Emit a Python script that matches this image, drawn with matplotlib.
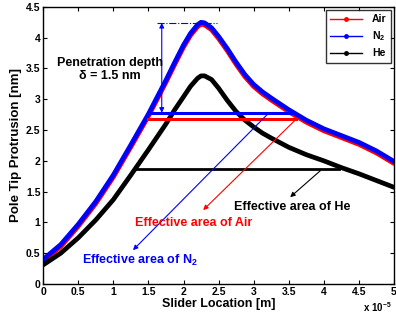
import numpy as np
import matplotlib
matplotlib.use("Agg")
import matplotlib.pyplot as plt
from matplotlib.lines import Line2D

plt.rcParams['font.family'] = ['Liberation Sans', 'DejaVu Sans']
plt.rcParams['font.weight'] = 'bold'
plt.rcParams['mathtext.fontset'] = 'custom'
plt.rcParams['mathtext.rm'] = 'Liberation Sans:bold'
plt.rcParams['mathtext.bf'] = 'Liberation Sans:bold'
plt.rcParams['mathtext.default'] = 'bf'

# slider location in units of 1e-5 m
x = [0, 0.25, 0.5, 0.75, 1.0, 1.25, 1.5, 1.75, 1.875, 2.0, 2.1, 2.2, 2.25, 2.3,
     2.4, 2.5, 2.625, 2.75, 2.875, 3.0, 3.125, 3.25, 3.5, 3.75, 4.0, 4.25, 4.5, 4.75, 5.0]
n2 = [0.40, 0.64, 0.97, 1.34, 1.77, 2.26, 2.76, 3.31, 3.60, 3.88, 4.07, 4.21, 4.25, 4.24,
      4.16, 4.02, 3.82, 3.60, 3.40, 3.24, 3.12, 3.02, 2.83, 2.66, 2.52, 2.41, 2.30, 2.16, 1.99]
air = [0.37, 0.61, 0.94, 1.31, 1.74, 2.23, 2.73, 3.28, 3.57, 3.85, 4.04, 4.18, 4.22, 4.21,
       4.13, 3.99, 3.79, 3.57, 3.37, 3.21, 3.09, 2.99, 2.80, 2.63, 2.49, 2.38, 2.27, 2.13, 1.96]
he = [0.31, 0.50, 0.75, 1.04, 1.37, 1.77, 2.18, 2.60, 2.83, 3.04, 3.21, 3.34, 3.38, 3.38,
      3.32, 3.18, 2.98, 2.80, 2.66, 2.55, 2.45, 2.37, 2.22, 2.10, 2.00, 1.89, 1.79, 1.68, 1.57]

# effective area levels: (start, end, level)
air_eff = (1.50, 3.60, 2.68)
n2_eff = (1.52, 3.55, 2.78)
he_eff = (1.33, 4.22, 1.87)
peak = 4.24

xticks = ['0', '0.5', '1', '1.5', '2', '2.5', '3', '3.5', '4', '4.5', '5']
yticks = ['0', '0.5', '1', '1.5', '2', '2.5', '3', '3.5', '4', '4.5']

fig = plt.figure(figsize=(3.96, 3.2), dpi=100)
ax = fig.add_axes([0.109, 0.1125, 0.886, 0.866])

kw = dict(solid_joinstyle='round', solid_capstyle='round')
ax.plot(x, air, color='red', lw=3.6, **kw)
ax.plot(x, n2, color='blue', lw=3.4, **kw)
ax.plot(x, he, color='black', lw=3.4, **kw)

ax.plot(air_eff[:2], [air_eff[2]] * 2, color='red', lw=2.2)
ax.plot(n2_eff[:2], [n2_eff[2]] * 2, color='blue', lw=2.2)
ax.plot(he_eff[:2], [he_eff[2]] * 2, color='black', lw=2.0)

# penetration depth marker
ax.plot([1.62, 2.48], [peak, peak], color='blue', lw=0.8, ls='-.')
ax.annotate('', xy=(1.69, n2_eff[2]), xytext=(1.69, peak),
            arrowprops=dict(arrowstyle='<|-|>', color='blue', lw=0.8,
                            mutation_scale=7, shrinkA=0, shrinkB=0))
ax.text(0.95, 3.48, 'Penetration depth\n\u03b4 = 1.5 nm', ha='center', va='center',
        fontsize=9, fontweight='bold', linespacing=1.15)

arr = dict(arrowstyle='-|>', lw=0.8, mutation_scale=7, shrinkA=0, shrinkB=0)
ax.annotate('', xy=(1.28, 0.55), xytext=(3.2, 2.76),
            arrowprops=dict(arr, color='blue'))
ax.annotate('', xy=(2.28, 1.2), xytext=(3.6, 2.67),
            arrowprops=dict(arr, color='red'))
ax.annotate('', xy=(3.52, 1.41), xytext=(3.95, 1.84),
            arrowprops=dict(arr, color='black'))

ax.text(3.55, 1.25, 'Effective area of He', color='black', ha='center', va='center',
        fontsize=9, fontweight='bold')
ax.text(2.15, 0.99, 'Effective area of Air', color='red', ha='center', va='center',
        fontsize=9, fontweight='bold')
ax.text(1.38, 0.39, 'Effective area of N$_2$', color='blue', ha='center', va='center',
        fontsize=9, fontweight='bold')

ax.set_xlim(0, 5)
ax.set_ylim(0, 4.5)
ax.set_xticks(np.arange(0, 5.01, 0.5))
ax.set_xticklabels(xticks, fontweight='bold')
ax.set_yticks(np.arange(0, 4.51, 0.5))
ax.set_yticklabels(yticks, fontweight='bold')
ax.tick_params(direction='in', top=True, right=True, labelsize=7.5, length=3, pad=2)
for s in ax.spines.values():
    s.set_linewidth(1.0)
ax.set_xlabel('Slider Location [m]', fontsize=9, fontweight='bold', labelpad=1)
ax.set_ylabel('Pole Tip Protrusion [nm]', fontsize=9.5, fontweight='bold', labelpad=3)
fig.text(0.99, 0.02, 'x 10$^{-5}$', ha='right', va='bottom', fontsize=7, fontweight='bold')

handles = [Line2D([0, 0.5, 1], [0, 0, 0], color=c, lw=1, marker='.', markersize=5,
                  markevery=[1]) for c in ('red', 'blue', 'black')]
leg = ax.legend(handles, ['Air', 'N$_2$', 'He'], loc='upper right', fontsize=7.5,
                frameon=True, fancybox=False, edgecolor='black', handlelength=3,
                borderaxespad=0.3, labelspacing=0.5, handletextpad=1.0)
leg.get_frame().set_linewidth(1.0)
for t in leg.get_texts():
    t.set_fontweight('bold')

fig.savefig('out.png', dpi=100)
